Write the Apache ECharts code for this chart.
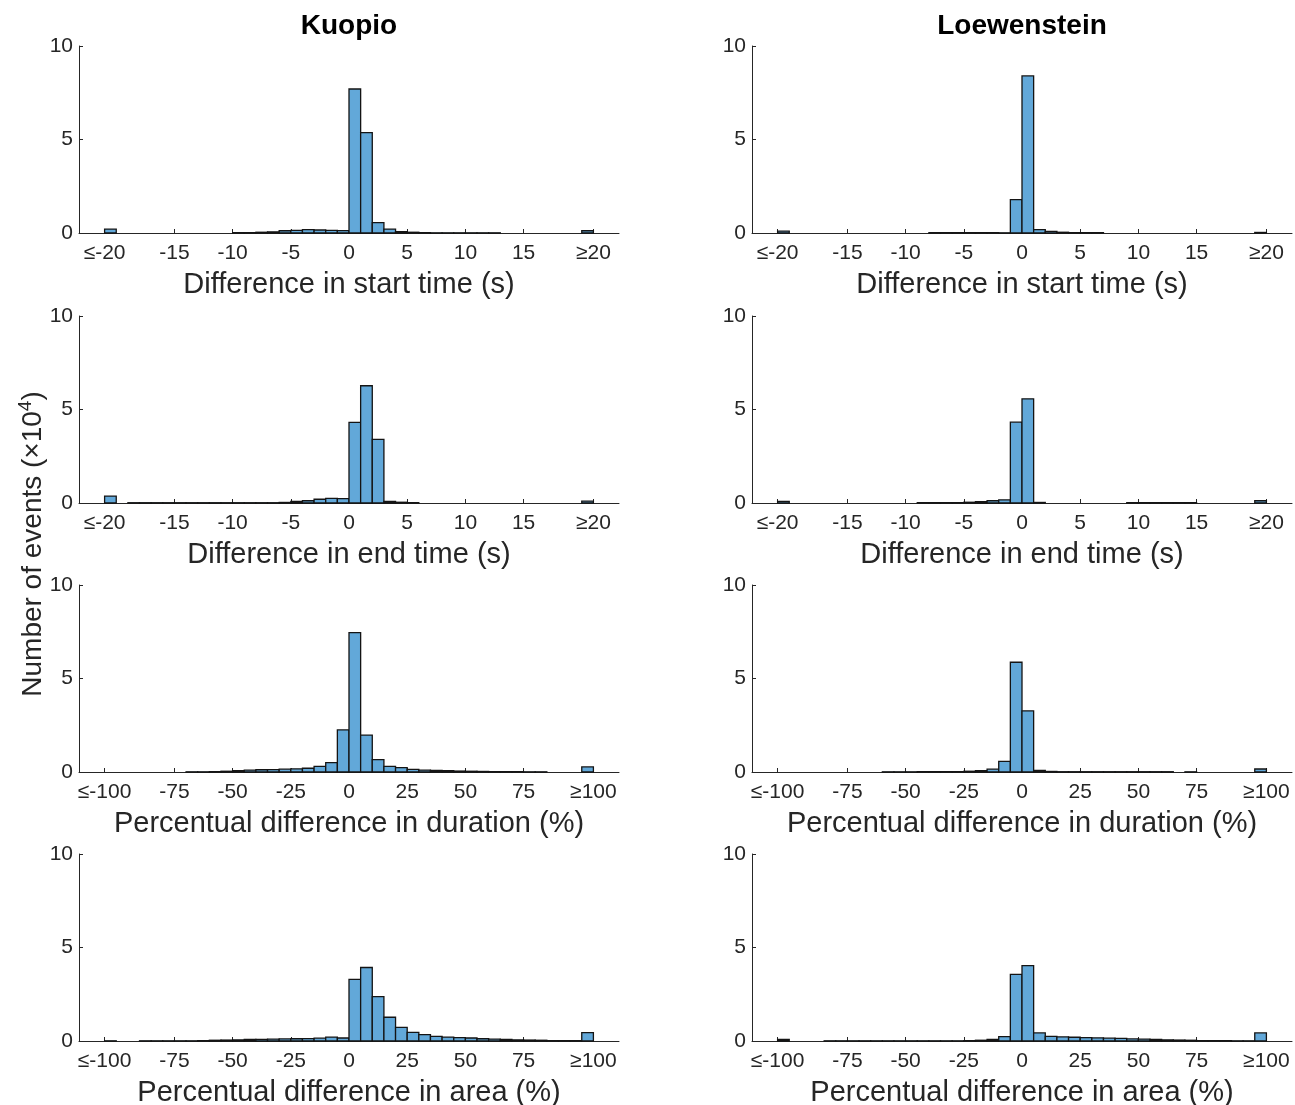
<!DOCTYPE html>
<html><head><meta charset="utf-8">
<script src="https://cdn.jsdelivr.net/npm/echarts@6/dist/echarts.min.js"></script>
<style>html,body{margin:0;padding:0;background:#fff}#c{width:1295px;height:1105px}</style>
</head><body><div id="c"></div>
<script>
// ---------- data ----------
const stations = ['Kuopio', 'Loewenstein'];
const axisNames = ['Difference in start time (s)', 'Difference in end time (s)',
  'Percentual difference in duration (%)', 'Percentual difference in area (%)'];
const yLabel = 'Number of events (×10';
const yLabelExp = '4';

// left edges of bins (first = "≤" outlier bin, last = "≥" outlier bin)
const timeBinLeft = [-21,-20,-19,-18,-17,-16,-15,-14,-13,-12,-11,-10,-9,-8,-7,-6,-5,-4,-3,-2,-1,
  0,1,2,3,4,5,6,7,8,9,10,11,12,13,14,15,16,17,18,19,20];
const timeBinWidth = 1;
const pctBinLeft = [-105,-100,-95,-90,-85,-80,-75,-70,-65,-60,-55,-50,-45,-40,-35,-30,-25,-20,-15,-10,-5,
  0,5,10,15,20,25,30,35,40,45,50,55,60,65,70,75,80,85,90,95,100];
const pctBinWidth = 5;

const timeTicks = [-21, -15, -10, -5, 0, 5, 10, 15, 21];
const timeTickLabels = ['≤-20', '-15', '-10', '-5', '0', '5', '10', '15', '≥20'];
const pctTicks = [-105, -75, -50, -25, 0, 25, 50, 75, 105];
const pctTickLabels = ['≤-100', '-75', '-50', '-25', '0', '25', '50', '75', '≥100'];
const yTicks = [0, 5, 10];

// counts (×10^4)
const kuopioStart = [0.21,0,0,0,0,0,0,0,0,0,0,0.02,0.02,0.04,0.06,0.12,0.14,0.18,0.16,0.14,0.13,
  7.7,5.37,0.55,0.21,0.07,0.04,0.02,0.01,0.01,0.01,0.01,0.01,0.01,0,0,0,0,0,0,0,0.12];
const loewStart = [0.1,0,0,0,0,0,0,0,0,0,0,0,0,0.02,0.02,0.02,0.02,0.02,0.02,0.01,1.78,
  8.4,0.18,0.09,0.04,0.02,0.02,0.02,0,0,0,0,0,0,0,0,0,0,0,0,0,0.03];
const kuopioEnd = [0.37,0,0.015,0.015,0.015,0.015,0.015,0.015,0.015,0.015,0.015,0.015,0.015,0.015,0.015,0.03,0.08,0.12,0.2,0.25,0.23,
  4.31,6.27,3.4,0.08,0.04,0.02,0,0,0,0,0,0,0,0,0,0,0,0,0,0,0.1];
const loewEnd = [0.09,0,0,0,0,0,0,0,0,0,0,0,0.02,0.02,0.02,0.02,0.04,0.07,0.12,0.17,4.32,
  5.57,0.03,0,0,0,0,0,0,0,0.02,0.02,0.02,0.02,0.02,0.02,0,0,0,0,0,0.12];
const kuopioDur = [0,0,0,0,0,0,0,0.01,0.01,0.02,0.04,0.07,0.1,0.12,0.13,0.15,0.17,0.2,0.3,0.5,2.25,
  7.45,1.97,0.66,0.3,0.23,0.14,0.1,0.08,0.07,0.05,0.04,0.03,0.02,0.02,0.02,0.01,0.01,0,0,0,0.27];
const loewDur = [0,0,0,0,0,0,0,0,0,0.01,0.01,0.01,0.02,0.02,0.02,0.02,0.04,0.07,0.15,0.57,5.87,
  3.27,0.08,0.03,0.015,0.015,0.015,0.015,0.015,0.015,0.015,0.015,0.015,0.015,0,0.01,0,0,0,0,0,0.16];
const kuopioArea = [0.01,0,0,0.01,0.01,0.01,0.01,0.01,0.02,0.04,0.05,0.06,0.08,0.09,0.1,0.11,0.12,0.13,0.15,0.21,0.16,
  3.3,3.93,2.37,1.27,0.73,0.46,0.34,0.25,0.21,0.18,0.16,0.12,0.1,0.08,0.06,0.05,0.04,0.02,0.02,0.02,0.45];
const loewArea = [0.08,0,0,0,0.01,0.01,0.01,0.01,0.01,0.01,0.01,0.01,0.01,0.01,0.01,0.01,0.02,0.04,0.08,0.23,3.56,
  4.03,0.43,0.25,0.22,0.2,0.18,0.17,0.15,0.14,0.11,0.1,0.08,0.06,0.05,0.04,0.02,0.02,0.02,0.01,0.01,0.43];

// ---------- layout ----------
const colLeft = [79, 752];
const gridWidth = 540;
const rowTop = [46, 316, 585, 854];
const gridHeight = 187;

const panels = [
  [0, 0, kuopioStart, 'time'], [0, 1, loewStart, 'time'],
  [1, 0, kuopioEnd, 'time'], [1, 1, loewEnd, 'time'],
  [2, 0, kuopioDur, 'pct'], [2, 1, loewDur, 'pct'],
  [3, 0, kuopioArea, 'pct'], [3, 1, loewArea, 'pct']
];

const TEXT = '#262626';
const FONT = '"Liberation Sans", Arial, Helvetica, sans-serif';
const FILL = '#62a8d9';

const grids = [], xAxes = [], yAxes = [], series = [];
panels.forEach((p, i) => {
  const [row, col, vals, kind] = p;
  const isTime = kind === 'time';
  const left = isTime ? timeBinLeft : pctBinLeft;
  const w = isTime ? timeBinWidth : pctBinWidth;
  const ticks = isTime ? timeTicks : pctTicks;
  const tickLabels = isTime ? timeTickLabels : pctTickLabels;
  const ext = isTime ? 23.2 : 116;
  grids.push({ left: colLeft[col], top: rowTop[row], width: gridWidth, height: gridHeight,
    containLabel: false, outerBoundsMode: 'none' });
  xAxes.push({
    type: 'value', gridIndex: i, min: -ext, max: ext,
    name: axisNames[row], nameLocation: 'middle', nameGap: 37,
    nameTextStyle: { fontSize: 29, color: TEXT, fontFamily: FONT },
    axisLine: { show: true, onZero: false, lineStyle: { color: TEXT, width: 1 } },
    axisTick: { show: true, inside: true, length: 4, customValues: ticks, lineStyle: { color: TEXT } },
    axisLabel: { show: true, customValues: ticks, margin: 10, fontSize: 21, color: TEXT, fontFamily: FONT,
      formatter: v => { const k = ticks.indexOf(v); return k >= 0 ? tickLabels[k] : ''; } },
    splitLine: { show: false }
  });
  yAxes.push({
    type: 'value', gridIndex: i, min: 0, max: 10, interval: 5,
    axisLine: { show: true, onZero: false, lineStyle: { color: TEXT, width: 1 } },
    axisTick: { show: true, inside: true, length: 4, customValues: yTicks, lineStyle: { color: TEXT } },
    axisLabel: { show: true, margin: 6, fontSize: 21, color: TEXT, fontFamily: FONT },
    splitLine: { show: false }
  });
  series.push({
    type: 'custom', xAxisIndex: i, yAxisIndex: i,
    data: left.map((l, k) => [l, l + w, vals[k]]),
    encode: { x: [0, 1], y: 2 },
    renderItem: function (params, api) {
      const v = api.value(2);
      if (!(v > 0)) return null;
      const p0 = api.coord([api.value(0), v]);
      const p1 = api.coord([api.value(1), 0]);
      return { type: 'rect',
        shape: { x: p0[0], y: p0[1], width: p1[0] - p0[0], height: p1[1] - p0[1] },
        style: { fill: FILL, stroke: '#141414', lineWidth: 1.3 } };
    },
    silent: true, animation: false
  });
});

const graphics = [
  { type: 'text', x: colLeft[0] + gridWidth / 2, y: 26,
    style: { text: stations[0], align: 'center', verticalAlign: 'middle', fontSize: 28, fontWeight: 'bold', fontFamily: FONT, fill: '#000' } },
  { type: 'text', x: colLeft[1] + gridWidth / 2, y: 26,
    style: { text: stations[1], align: 'center', verticalAlign: 'middle', fontSize: 28, fontWeight: 'bold', fontFamily: FONT, fill: '#000' } },
  { type: 'text', x: 33, y: 544, rotation: Math.PI / 2,
    style: { text: '{n|' + yLabel + '}{s|' + yLabelExp + '}{n|)}', align: 'center', verticalAlign: 'middle',
      rich: { n: { fontSize: 28, lineHeight: 34, fontFamily: FONT, fill: TEXT, color: TEXT },
              s: { fontSize: 19, lineHeight: 19, fontFamily: FONT, fill: TEXT, color: TEXT, verticalAlign: 'top' } } } }
];

const chart = echarts.init(document.getElementById('c'), null, { renderer: 'canvas' });
chart.setOption({
  animation: false,
  backgroundColor: '#fff',
  grid: grids, xAxis: xAxes, yAxis: yAxes, series: series, graphic: graphics
});
</script></body></html>
